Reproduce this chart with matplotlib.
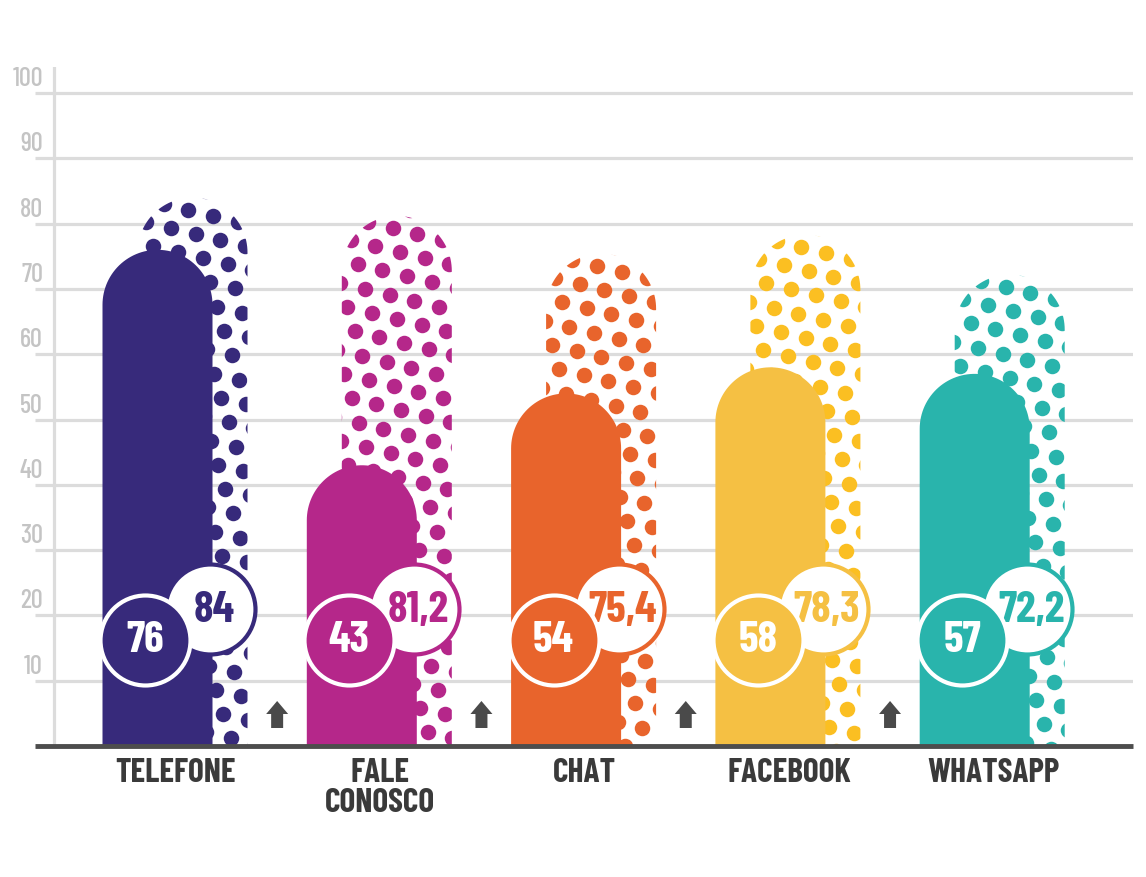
import numpy as np
import matplotlib
matplotlib.use("Agg")
import matplotlib.pyplot as plt
from matplotlib.path import Path
from matplotlib.patches import PathPatch

# data
categories = ["TELEFONE", "FALE\nCONOSCO", "CHAT", "FACEBOOK", "WHATSAPP"]
before = [76, 43, 54, 58, 57]
after = [84, 81.2, 75.4, 78.3, 72.2]
after_labels = ["84", "81,2", "75,4", "78,3", "72,2"]
colors = ["#372a7b", "#b5278a", "#e8642c", "#f5c043", "#29b4ac"]
dot_colors = ["#372a7b", "#b5278a", "#e8642c", "#fbbf22", "#29b4ac"]
yticks = [10, 20, 30, 40, 50, 60, 70, 80, 90, 100]

plt.rcParams["font.family"] = ["Barlow Condensed", "IBM Plex Sans Condensed", "DejaVu Sans"]

W, H = 1146, 877
fig = plt.figure(figsize=(W / 100, H / 100), dpi=100)
# pixel geometry of the plot area
px_left, px_right = 35, 1133
px_base, px_top = 746, 67
ymax = 104
ax = fig.add_axes([px_left / W, (H - px_base) / H,
                   (px_right - px_left) / W, (px_base - px_top) / H])
x0 = (px_left - 175) / 204.3
x1 = (px_right - 175) / 204.3
ax.set_xlim(x0, x1)
ax.set_ylim(0, ymax)
ax.axis("off")

# pixel -> data scale factors
sx = 1 / 204.3
sy = ymax / (px_base - px_top)

# grid
for t in yticks:
    ax.plot([x0, x1], [t, t], color="#dcdcdc", lw=2.3, zorder=0, solid_capstyle="butt")
    ax.text((43 - 175) * sx, t + 14 * sy, str(t), ha="right", va="center",
            fontsize=19, fontweight="medium", color="#c4c4c4", clip_on=False)
ax.plot([(54 - 175) * sx] * 2, [0, ymax], color="#dcdcdc", lw=2.3, zorder=0)


def rounded_bar(xc, val, half_w):
    rx = half_w * sx
    ry = half_w * sy
    th = np.linspace(np.pi, 0, 60)
    xs = np.concatenate([[xc - rx], xc + rx * np.cos(th), [xc + rx]])
    ys = np.concatenate([[0], (val - ry) + ry * np.sin(th), [0]])
    verts = np.column_stack([xs, ys])
    verts = np.vstack([verts, verts[:1]])
    codes = [Path.MOVETO] + [Path.LINETO] * (len(verts) - 2) + [Path.CLOSEPOLY]
    return Path(verts, codes)


half_w = 55
off = 17.5
# hex lattice of the dot texture, in pixels
a = np.array([24.7, 6.0])
b = np.array([7.2, 24.3])
ii, jj = np.meshgrid(np.arange(-30, 30), np.arange(-30, 30))
lat = ii.ravel()[:, None] * a + jj.ravel()[:, None] * b

for i in range(len(categories)):
    xb = i + off * sx
    xf = i - off * sx

    # dotted "after" bar
    bp = PathPatch(rounded_bar(xb, after[i], half_w), facecolor="none",
                   edgecolor="none", transform=ax.transData)
    ax.add_patch(bp)
    top_px = px_base - after[i] / sy
    dx = lat[:, 0] - 4
    dy = lat[:, 1] + 12
    keep = (np.abs(dx) < 80) & (dy < (px_base - top_px) + 20)
    dxs = xb + dx[keep] * sx
    dys = after[i] - dy[keep] * sy
    sc = ax.scatter(dxs, dys, s=(15.5 * 0.72) ** 2, color=dot_colors[i],
                    linewidths=0, zorder=2)
    sc.set_clip_path(bp)

    # solid "before" bar
    fp = PathPatch(rounded_bar(xf, before[i], half_w), facecolor=colors[i],
                   edgecolor="none", zorder=3)
    ax.add_patch(fp)

    # value circles
    cb = (i + 35 * sx, (px_base - 609) * sy)
    cf = (i - 30 * sx, (px_base - 640) * sy)
    ax.scatter([cb[0]], [cb[1]], s=(90 * 0.72) ** 2, facecolor="white",
               edgecolor=colors[i], linewidths=3, zorder=4)
    ax.text(cb[0] + 4 * sx, cb[1] - 1 * sy, after_labels[i], ha="center", va="center",
            fontsize=32, fontweight="bold", color=colors[i], zorder=5)
    ax.scatter([cf[0]], [cf[1]], s=(90 * 0.72) ** 2, facecolor=colors[i],
               edgecolor="white", linewidths=3, zorder=6)
    ax.text(cf[0], cf[1] - 1 * sy, str(before[i]), ha="center", va="center",
            fontsize=32, fontweight="bold", color="white", zorder=7)

    # category label
    ax.text(i + 1 * sx, -12.5 * sy, categories[i], ha="center", va="top",
            fontsize=24, fontweight="bold", color="#3a3a3a", linespacing=0.98,
            clip_on=False)

    # small arrows between groups
    if i < len(categories) - 1:
        ax.arrow(i + 0.5, (px_base - 728) * sy, 0, 27 * sy, width=12 * sx,
                 head_width=22 * sx, head_length=13 * sy,
                 length_includes_head=True, color="#4a4a4a", lw=0, zorder=3)

# baseline
ax.plot([x0, x1], [0, 0], color="#4d4d4d", lw=3.5, zorder=8,
        solid_capstyle="butt", clip_on=False)

fig.savefig("out.png", dpi=100, facecolor="white")
